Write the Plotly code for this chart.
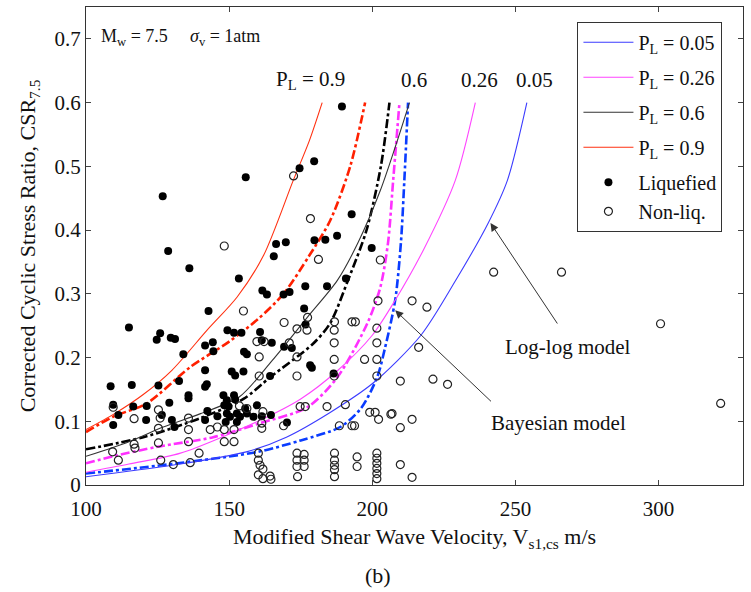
import plotly.graph_objects as go

FONT = "Liberation Serif, Times New Roman, serif"

# ---- curves ----
loglog_005_x = [100, 130, 156, 170, 185, 200.3, 217, 229, 240.6, 247.2, 254]
loglog_005_y = [0.013, 0.031, 0.052, 0.075, 0.113, 0.16, 0.235, 0.32, 0.412, 0.478, 0.6]
loglog_026_x = [100, 115, 133, 161, 175, 188, 200, 208, 218, 229, 236]
loglog_026_y = [0.02, 0.033, 0.05, 0.102, 0.135, 0.18, 0.235, 0.29, 0.37, 0.478, 0.6]
loglog_06_x = [100, 115, 127, 140, 153.5, 165, 177.3, 187.8, 195, 202.8, 208, 213]
loglog_06_y = [0.045, 0.068, 0.091, 0.112, 0.138, 0.195, 0.263, 0.321, 0.38, 0.462, 0.53, 0.6]
loglog_09_x = [100, 110, 120, 130, 142.3, 152.8, 162, 172.4, 178, 182.5]
loglog_09_y = [0.087, 0.112, 0.142, 0.18, 0.243, 0.295, 0.36, 0.478, 0.54, 0.6]

bayes_005_x = [100, 130, 160, 175, 188.8, 196, 201.7, 204.5, 208, 210, 211.2, 212.5]
bayes_005_y = [0.018, 0.033, 0.052, 0.07, 0.091, 0.12, 0.169, 0.216, 0.29, 0.38, 0.478, 0.6]
bayes_026_x = [100, 109.4, 125, 144.4, 160.8, 177.3, 187.8, 198.3, 202.8, 205.5, 207.3, 209.5]
bayes_026_y = [0.034, 0.045, 0.06, 0.075, 0.097, 0.122, 0.169, 0.254, 0.31, 0.38, 0.478, 0.6]
bayes_06_x = [100, 120, 140, 155, 164.3, 179.4, 185.3, 191.5, 198, 203, 206]
bayes_06_y = [0.056, 0.075, 0.105, 0.135, 0.169, 0.222, 0.254, 0.321, 0.40, 0.50, 0.6]
bayes_09_x = [100, 109.4, 121.2, 136.4, 150, 160, 169, 178, 185.3, 192.3, 197.5]
bayes_09_y = [0.083, 0.107, 0.128, 0.185, 0.225, 0.26, 0.30, 0.36, 0.415, 0.50, 0.6]

# ---- case histories ----
liq_x = [126.8, 155.8, 174.6, 179.7, 128.7, 136.1, 153.4, 166.4, 169.8, 165.6, 179.8, 183.6,
         176.6, 184.2, 161.6, 163.2, 169.0, 171.1, 189.4, 187.7, 190.8, 192.8, 199.8,
         142.8, 115.0, 125.9, 124.7, 129.6, 131.1, 134.0, 141.6, 144.3, 144.5, 149.4, 151.7,
         154.3, 160.8, 161.4, 164.9, 155.2, 156.2, 169.2, 171.9, 176.2, 176.7, 178.3, 178.9,
         141.6, 150.9, 155.0, 152.1, 164.3, 108.6, 116.0, 125.3, 132.5, 141.6, 142.2, 135.8,
         135.8, 129.1, 121.2, 109.5, 116.5, 111.3, 109.5, 121.0, 130.0, 130.9, 126.5, 148.0,
         149.2, 151.7, 152.1, 148.3, 149.8, 142.4, 145.9, 141.6, 149.2, 150.3, 152.7, 153.8,
         156.2, 158.5, 155.6, 159.7, 161.4, 164.6, 170.2, 148.8, 152.7, 186.5]
liq_y = [0.453, 0.483, 0.497, 0.508, 0.367, 0.340, 0.324, 0.378, 0.381, 0.359, 0.384, 0.385,
         0.312, 0.312, 0.305, 0.299, 0.299, 0.303, 0.594, 0.391, 0.324, 0.425, 0.372,
         0.273, 0.247, 0.238, 0.228, 0.231, 0.229, 0.205, 0.219, 0.224, 0.210, 0.243, 0.239,
         0.239, 0.240, 0.227, 0.223, 0.209, 0.205, 0.217, 0.215, 0.277, 0.252, 0.188, 0.184,
         0.180, 0.178, 0.178, 0.172, 0.171, 0.155, 0.157, 0.156, 0.163, 0.154, 0.158, 0.141,
         0.136, 0.129, 0.124, 0.126, 0.123, 0.110, 0.094, 0.102, 0.102, 0.091, 0.110, 0.141,
         0.133, 0.141, 0.134, 0.125, 0.123, 0.116, 0.108, 0.102, 0.112, 0.107, 0.112, 0.107,
         0.112, 0.107, 0.120, 0.125, 0.108, 0.110, 0.098, 0.099, 0.099, 0.175]

non_x = [172.5, 148.3, 178.4, 181.2,
         155.0, 169.2, 173.7, 177.2, 177.4, 159.7, 162.2, 171.0, 160.5, 173.7, 160.5, 173.7,
         109.5, 116.8, 125.3, 125.9, 135.8, 135.8, 143.4, 145.9, 148.3, 151.7, 125.3, 116.8,
         117.1, 109.3, 111.3, 125.3, 126.1, 130.5, 135.8, 139.5, 136.4, 148.3, 151.7, 153.6,
         156.2, 161.8, 161.4, 161.4, 169.0, 174.8, 176.6, 184.2,
         160.2, 160.2, 160.8, 161.8, 160.2, 161.8, 164.6, 164.3,
         173.7, 176.2, 173.7, 176.2, 173.7, 176.2, 173.9,
         202.0, 213.9, 186.8, 192.9, 194.1, 201.6, 186.7, 186.7, 201.6, 186.7, 197.3, 201.6,
         216.2, 186.7, 201.6, 209.8, 190.6, 199.1, 201.0, 202.2, 206.5, 213.9, 209.8, 188.5,
         192.9, 193.8,
         186.8, 186.8, 186.8, 186.8, 186.8, 194.7, 194.7,
         201.6, 201.6, 201.6, 201.6, 201.6, 201.6, 209.8, 213.9,
         202.8, 219.1, 242.4, 266.1, 300.7, 221.2, 226.3, 206.9, 321.7]
non_y = [0.485, 0.375, 0.418, 0.354,
         0.273, 0.255, 0.245, 0.243, 0.263, 0.225, 0.225, 0.223, 0.201, 0.201, 0.171, 0.171,
         0.122, 0.104, 0.118, 0.105, 0.105, 0.087, 0.087, 0.091, 0.087, 0.087, 0.089, 0.064,
         0.058, 0.052, 0.039, 0.066, 0.039, 0.032, 0.068, 0.050, 0.035, 0.068, 0.068, 0.124,
         0.120, 0.115, 0.097, 0.089, 0.093, 0.123, 0.123, 0.123,
         0.050, 0.039, 0.031, 0.025, 0.016, 0.010, 0.009, 0.014,
         0.050, 0.048, 0.039, 0.039, 0.029, 0.029, 0.013,
         0.289, 0.289, 0.256, 0.256, 0.256, 0.246, 0.243, 0.223, 0.223, 0.197, 0.197, 0.197,
         0.216, 0.171, 0.171, 0.163, 0.126, 0.114, 0.114, 0.103, 0.111, 0.103, 0.090, 0.093,
         0.093, 0.093,
         0.050, 0.039, 0.031, 0.024, 0.013, 0.044, 0.029,
         0.050, 0.042, 0.034, 0.026, 0.018, 0.010, 0.032, 0.012,
         0.353, 0.279, 0.334, 0.334, 0.253, 0.166, 0.158, 0.112, 0.128]

x_ticks = [100, 150, 200, 250, 300]
y_ticks = [0, 0.1, 0.2, 0.3, 0.4, 0.5, 0.6, 0.7]

fig = go.Figure()

solid = [(loglog_005_x, loglog_005_y, "#3b3bff", "P<sub>L</sub> = 0.05"),
         (loglog_026_x, loglog_026_y, "#ff44ff", "P<sub>L</sub> = 0.26"),
         (loglog_06_x, loglog_06_y, "#333333", "P<sub>L</sub> = 0.6"),
         (loglog_09_x, loglog_09_y, "#ff3010", "P<sub>L</sub> = 0.9")]
dashed = [(bayes_005_x, bayes_005_y, "#0a3cff"),
          (bayes_026_x, bayes_026_y, "#ff30ff"),
          (bayes_06_x, bayes_06_y, "#000000"),
          (bayes_09_x, bayes_09_y, "#ff2000")]

for xs, ys, c in dashed:
    fig.add_trace(go.Scatter(x=xs, y=ys, mode="lines", line=dict(color=c, width=2.6, dash="dashdot", shape="spline", smoothing=0.8),
                             showlegend=False, hoverinfo="skip"))
for i, (xs, ys, c, name) in enumerate(solid):
    fig.add_trace(go.Scatter(x=xs, y=ys, mode="lines", name=name, legendgroup="g%d" % i,
                             line=dict(color=c, width=1.1, shape="spline", smoothing=0.8)))

fig.add_trace(go.Scatter(x=liq_x, y=liq_y, mode="markers", name="Liquefied", legendgroup="pts",
                         marker=dict(symbol="circle", size=8, color="black", line=dict(width=0))))
fig.add_trace(go.Scatter(x=non_x, y=non_y, mode="markers", name="Non-liq.", legendgroup="pts",
                         marker=dict(symbol="circle-open", size=8, color="#222222", line=dict(width=1.2))))

ann = [
    dict(x=104.5, y=0.702, text="M<sub>w</sub> = 7.5", xanchor="left", showarrow=False, font=dict(size=18)),
    dict(x=135.5, y=0.702, text="<i>σ</i><sub>v</sub> = 1atm", xanchor="left", showarrow=False, font=dict(size=18)),
    dict(x=178.3, y=0.636, text="P<sub>L</sub> = 0.9", showarrow=False, font=dict(size=21)),
    dict(x=214.5, y=0.636, text="0.6", showarrow=False, font=dict(size=21)),
    dict(x=237.5, y=0.636, text="0.26", showarrow=False, font=dict(size=21)),
    dict(x=256.5, y=0.636, text="0.05", showarrow=False, font=dict(size=21)),
    dict(x=241.3, y=0.411, ax=265.0, ay=0.251, axref="x", ayref="y", text="", showarrow=True,
         arrowhead=2, arrowsize=1.6, arrowwidth=1, arrowcolor="#333333"),
    dict(x=268.2, y=0.216, text="Log-log model", showarrow=False, font=dict(size=21)),
    dict(x=208.0, y=0.274, ax=242.0, ay=0.129, axref="x", ayref="y", text="", showarrow=True,
         arrowhead=2, arrowsize=1.6, arrowwidth=1, arrowcolor="#333333"),
    dict(x=265.0, y=0.097, text="Bayesian model", showarrow=False, font=dict(size=21)),
    dict(x=0.445, y=-0.22, xref="paper", yref="paper", text="(b)", showarrow=False, font=dict(size=22)),
]

fig.update_layout(
    width=751, height=592,
    margin=dict(l=86, r=8, t=7, b=107),
    paper_bgcolor="white", plot_bgcolor="white",
    font=dict(family=FONT, size=21, color="#111111"),
    annotations=ann,
    legend=dict(x=0.748, y=0.969, xanchor="left", yanchor="top", bgcolor="white",
                bordercolor="#333333", borderwidth=1, font=dict(size=20), tracegroupgap=6,
                itemwidth=50),
    xaxis=dict(range=[100, 329.5], tickvals=x_ticks, ticks="inside", ticklen=5, showline=True,
               linecolor="#333333", linewidth=1, mirror="ticks", showgrid=False, zeroline=False,
               ticklabelstandoff=5,
               title=dict(text="Modified Shear Wave Velocity, V<sub>s1,cs</sub> m/s", font=dict(size=22), standoff=8),
               tickfont=dict(size=21)),
    yaxis=dict(range=[0, 0.75], tickvals=y_ticks, ticks="inside", ticklen=5, showline=True,
               linecolor="#333333", linewidth=1, mirror="ticks", showgrid=False, zeroline=False,
               title=dict(text="Corrected Cyclic Stress Ratio, CSR<sub>7.5</sub>", font=dict(size=22), standoff=12),
               tickfont=dict(size=21)),
)

fig.write_html("out.html")
